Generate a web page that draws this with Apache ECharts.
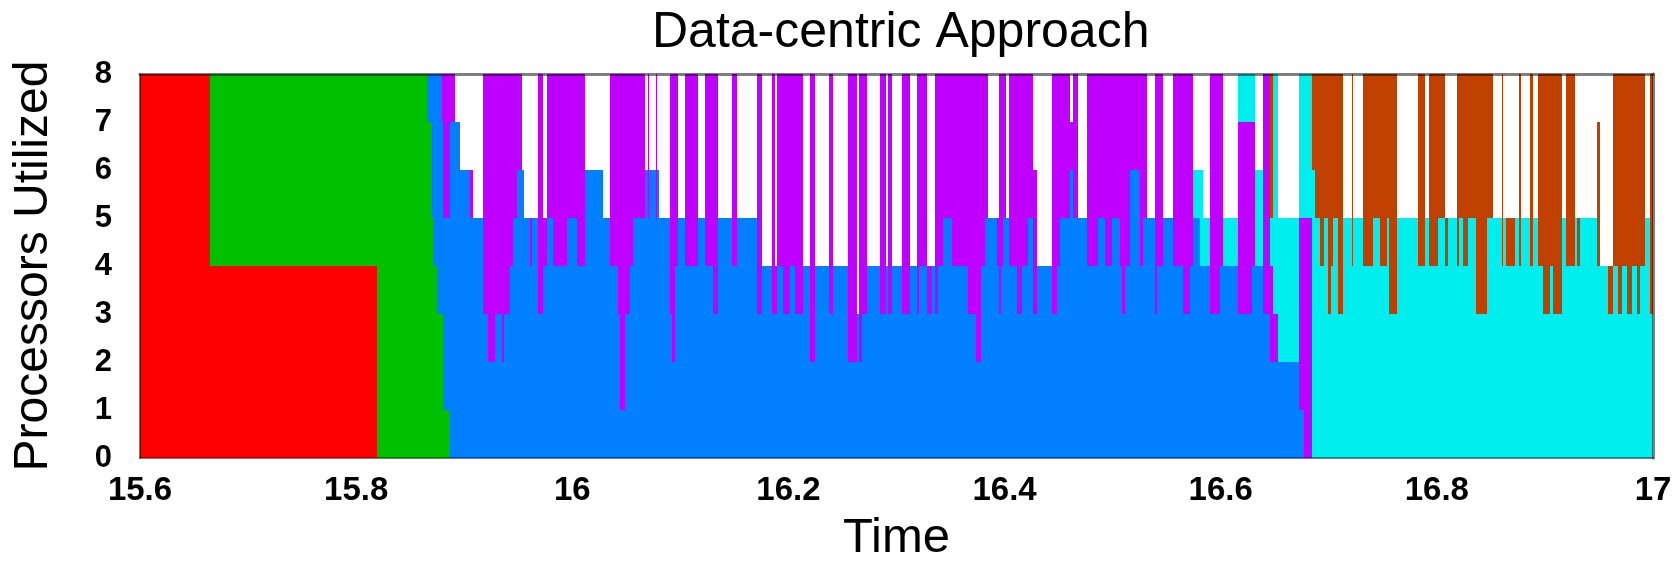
<!DOCTYPE html>
<html>
<head>
<meta charset="utf-8">
<title>Data-centric Approach</title>
<script src="https://cdn.jsdelivr.net/npm/echarts@6/dist/echarts.min.js"></script>
<style>
  html, body { margin: 0; background: #fff; }
  #chart { width: 1678px; height: 568px; }
</style>
</head>
<body>
<div id="chart"></div>
<script>
// each list: [time, processors used from that time on]
const redSteps = [[15.6, 8], [15.665, 4], [15.819, 0]]
const greenSteps = [[15.665, 4], [15.819, 8], [15.8653, 7], [15.8705, 5], [15.8714, 4], [15.8745, 3], [15.8807, 1], [15.8869, 0]]
const blueSteps = [
  [15.8653, 1], [15.8705, 3], [15.8714, 4], [15.8745, 5], [15.8792, 4], [15.8869, 7], [15.8961, 6], [15.9054, 5],
  [15.9177, 3], [15.9223, 2], [15.9285, 3], [15.9347, 2], [15.9368, 3], [15.9424, 4], [15.9455, 5], [15.9486, 6],
  [15.9553, 5], [15.9609, 4], [15.9624, 5], [15.9686, 3], [15.9726, 4], [15.9763, 5], [15.9825, 4], [15.9948, 5],
  [16.0041, 4], [16.0118, 6], [16.0287, 5], [16.0349, 4], [16.0426, 3], [16.0442, 1], [16.0488, 3], [16.0534, 4],
  [16.0565, 5], [16.0673, 6], [16.0698, 5], [16.0713, 6], [16.0775, 5], [16.0787, 6], [16.0806, 5], [16.0904, 3],
  [16.092, 2], [16.0951, 4], [16.0981, 5], [16.1043, 4], [16.1167, 5], [16.1228, 4], [16.1305, 3], [16.1352, 5],
  [16.1475, 4], [16.1521, 5], [16.1706, 3], [16.1753, 4], [16.1845, 3], [16.1891, 4], [16.1953, 3], [16.2015, 4],
  [16.2061, 3], [16.2132, 4], [16.22, 2], [16.2246, 4], [16.2378, 3], [16.2415, 4], [16.2554, 2], [16.2631, 3],
  [16.265, 2], [16.2681, 3], [16.2724, 4], [16.2847, 3], [16.2903, 4], [16.2924, 3], [16.2955, 4], [16.3048, 3],
  [16.3125, 4], [16.3187, 3], [16.3208, 4], [16.3279, 3], [16.3325, 4], [16.3356, 3], [16.3387, 4], [16.3433, 5],
  [16.351, 4], [16.3665, 3], [16.3732, 2], [16.3779, 4], [16.3819, 5], [16.3927, 4], [16.3948, 3], [16.3964, 4],
  [16.3988, 5], [16.4041, 4], [16.4112, 3], [16.4158, 4], [16.422, 5], [16.4266, 3], [16.4297, 4], [16.4436, 3],
  [16.4482, 4], [16.4513, 5], [16.4605, 6], [16.463, 5], [16.476, 4], [16.4868, 5], [16.4929, 4], [16.4991, 5],
  [16.5068, 4], [16.5083, 3], [16.5114, 4], [16.5161, 6], [16.5253, 4], [16.5284, 5], [16.5392, 3], [16.5413, 4],
  [16.5469, 5], [16.5562, 4], [16.5654, 3], [16.5716, 4], [16.5747, 5], [16.5808, 4], [16.5901, 3], [16.5993, 4],
  [16.6163, 3], [16.6286, 4], [16.6394, 3], [16.6456, 2], [16.6724, 1], [16.677, 0]
]
const purpleSteps = [
  [15.8792, 1], [15.8807, 3], [15.8869, 1], [15.8915, 0], [15.9054, 1], [15.9085, 0], [15.9177, 5], [15.9223, 6],
  [15.9285, 5], [15.9347, 6], [15.9368, 5], [15.9424, 4], [15.9455, 3], [15.9486, 2], [15.9532, 0], [15.9609, 1],
  [15.9624, 0], [15.9686, 5], [15.9726, 1], [15.9763, 3], [15.9825, 4], [15.9948, 3], [16.0041, 4], [16.0118, 0],
  [16.0349, 4], [16.0426, 5], [16.0442, 7], [16.0488, 5], [16.0534, 4], [16.0565, 3], [16.0673, 0], [16.0698, 3],
  [16.0713, 0], [16.0775, 3], [16.0787, 0], [16.0904, 5], [16.092, 6], [16.0951, 4], [16.0981, 0], [16.1043, 4],
  [16.1167, 0], [16.1228, 4], [16.1305, 5], [16.1352, 0], [16.1475, 4], [16.1521, 0], [16.1706, 5], [16.1753, 0],
  [16.1845, 5], [16.1876, 1], [16.1891, 4], [16.1953, 5], [16.2015, 4], [16.2061, 5], [16.2132, 0], [16.22, 6],
  [16.2246, 0], [16.2378, 5], [16.2415, 0], [16.2554, 6], [16.2631, 0], [16.265, 6], [16.2681, 5], [16.2724, 0],
  [16.2847, 5], [16.2903, 0], [16.2924, 5], [16.2955, 0], [16.3048, 5], [16.3125, 0], [16.3187, 5], [16.3208, 4],
  [16.3279, 1], [16.3325, 0], [16.3356, 5], [16.3387, 4], [16.3433, 3], [16.351, 4], [16.3665, 5], [16.3732, 6],
  [16.3779, 4], [16.3819, 3], [16.385, 0], [16.3927, 1], [16.3948, 5], [16.3964, 4], [16.3988, 3], [16.401, 0],
  [16.4041, 4], [16.4112, 5], [16.4158, 4], [16.422, 3], [16.4297, 0], [16.4436, 5], [16.4482, 4], [16.4513, 3],
  [16.4605, 1], [16.463, 3], [16.4682, 0], [16.476, 4], [16.4868, 3], [16.4929, 4], [16.4991, 3], [16.5068, 4],
  [16.5083, 5], [16.5114, 4], [16.5161, 2], [16.5253, 4], [16.5284, 3], [16.5315, 0], [16.5392, 5], [16.5413, 4],
  [16.5469, 0], [16.5562, 4], [16.5654, 5], [16.5716, 4], [16.5747, 0], [16.5901, 5], [16.5993, 4], [16.6024, 0],
  [16.6163, 4], [16.6286, 3], [16.6317, 0], [16.6394, 5], [16.6456, 2], [16.648, 1], [16.6533, 0], [16.6724, 4],
  [16.677, 5], [16.6841, 0]
]
const cyanSteps = [
  [16.5747, 1], [16.5808, 2], [16.5839, 1], [16.5901, 0], [16.6024, 1], [16.6317, 2], [16.6394, 0], [16.6456, 1],
  [16.648, 5], [16.6533, 3], [16.6841, 6], [16.6872, 5], [16.6918, 4], [16.6955, 5], [16.6995, 3], [16.7017, 4],
  [16.7042, 5], [16.7088, 3], [16.7128, 5], [16.7211, 4], [16.7227, 5], [16.7319, 4], [16.7412, 5], [16.7474, 4],
  [16.7535, 5], [16.756, 3], [16.7628, 5], [16.7828, 4], [16.789, 5], [16.793, 4], [16.8013, 5], [16.8075, 4],
  [16.8106, 5], [16.8183, 4], [16.8208, 5], [16.8245, 4], [16.8291, 5], [16.8362, 3], [16.8461, 5], [16.8599, 4],
  [16.8615, 5], [16.8639, 4], [16.8723, 5], [16.8763, 4], [16.8775, 5], [16.8862, 4], [16.8892, 5], [16.8939, 4],
  [16.8985, 3], [16.9047, 4], [16.9077, 3], [16.9155, 5], [16.9195, 4], [16.9278, 5], [16.9299, 4], [16.9324, 5],
  [16.9478, 4], [16.9586, 3], [16.9633, 4], [16.9679, 3], [16.971, 4], [16.9756, 3], [16.9802, 4], [16.9849, 3],
  [16.9879, 4], [16.9926, 5], [16.9972, 3]
]
const brownSteps = [
  [16.6456, 3], [16.648, 0], [16.6841, 2], [16.6872, 3], [16.6918, 4], [16.6955, 3], [16.6995, 5], [16.7017, 4],
  [16.7042, 3], [16.7088, 5], [16.7128, 0], [16.7211, 4], [16.7227, 0], [16.7319, 4], [16.7412, 3], [16.7474, 4],
  [16.7535, 3], [16.756, 5], [16.7628, 0], [16.7828, 4], [16.789, 0], [16.793, 4], [16.8013, 3], [16.8075, 1],
  [16.8106, 0], [16.8183, 4], [16.8208, 3], [16.8245, 4], [16.8291, 3], [16.8362, 5], [16.8461, 3], [16.8522, 0],
  [16.8599, 4], [16.8615, 0], [16.8639, 1], [16.8723, 0], [16.8763, 4], [16.8775, 0], [16.8862, 4], [16.8892, 0],
  [16.8939, 4], [16.8985, 5], [16.9047, 4], [16.9077, 5], [16.9155, 0], [16.9195, 4], [16.9278, 0], [16.9299, 1],
  [16.9324, 0], [16.9478, 3], [16.9509, 0], [16.9586, 1], [16.9633, 4], [16.9679, 5], [16.971, 4], [16.9756, 5],
  [16.9802, 4], [16.9849, 5], [16.9879, 4], [16.9926, 0], [16.9972, 5]
]
const timeEnd = 17
const xTicks = [15.6, 17, 0.2] // min, max, interval
const yTicks = [0, 8, 1]

// bottom to top
const stages = [
  { name: 'Stage 1', steps: redSteps, color: '#ff0000' },
  { name: 'Stage 2', steps: greenSteps, color: '#00c000' },
  { name: 'Stage 3', steps: blueSteps, color: '#0080ff' },
  { name: 'Stage 4', steps: purpleSteps, color: '#c000ff' },
  { name: 'Stage 5', steps: cyanSteps, color: '#00eeee' },
  { name: 'Stage 6', steps: brownSteps, color: '#c04000' }
]

// 所有阶段共用同一组时间点
const times = Array.from(new Set(stages.flatMap(s => s.steps.map(p => p[0])).concat([timeEnd])))
  .sort((a, b) => a - b)

function valueAt(steps, t) {
  let v = 0
  for (const [st, c] of steps) {
    if (st <= t + 1e-9) v = c
    else break
  }
  return v
}

// 每个阶段的矩形块 [开始时间, 结束时间, 下沿, 上沿]，叠在下面各阶段之上
function buildBlocks(k) {
  const out = []
  for (let i = 0; i < times.length - 1; i++) {
    const t = times[i]
    let base = 0
    for (let j = 0; j < k; j++) base += valueAt(stages[j].steps, t)
    const n = valueAt(stages[k].steps, t)
    if (n <= 0) continue
    const last = out[out.length - 1]
    if (last && last[1] === t && last[2] === base && last[3] === base + n) {
      last[1] = times[i + 1]
    } else {
      out.push([t, times[i + 1], base, base + n])
    }
  }
  return out
}

const frame = 'rgba(0,0,0,0.5)'
const font = 'Liberation Sans'

const series = stages.map((s, k) => ({
  name: s.name,
  type: 'custom',
  silent: true,
  encode: { x: [0, 1], y: [2, 3] },
  renderItem(params, api) {
    const a = api.coord([api.value(0), api.value(3)])
    const b = api.coord([api.value(1), api.value(2)])
    const x0 = Math.round(a[0])
    const x1 = Math.round(b[0])
    const y0 = Math.round(a[1])
    const y1 = Math.round(b[1])
    return {
      type: 'rect',
      shape: { x: x0, y: y0, width: Math.max(x1 - x0, 1), height: y1 - y0 },
      style: { fill: s.color }
    }
  },
  data: buildBlocks(k)
}))

const chart = echarts.init(document.getElementById('chart'))
chart.setOption({
  animation: false,
  backgroundColor: '#fff',
  title: {
    text: 'Data-centric Approach',
    left: 652,
    top: 8,
    padding: 0,
    textStyle: { fontFamily: font, fontSize: 50, fontWeight: 'normal', color: '#000' }
  },
  grid: { left: 140, right: 25, top: 74, bottom: 101 },
  xAxis: [
    {
      type: 'value',
      min: xTicks[0],
      max: xTicks[1],
      interval: xTicks[2],
      z: 5,
      name: 'Time',
      nameLocation: 'middle',
      nameGap: 56,
      nameTextStyle: { fontFamily: font, fontSize: 49, color: '#000' },
      axisLine: { onZero: false, lineStyle: { color: frame, width: 2 } },
      axisTick: { show: false },
      splitLine: { show: false },
      axisLabel: { margin: 16, fontFamily: font, fontSize: 33, fontWeight: 'bold', color: '#000' }
    },
    {
      type: 'value',
      position: 'top',
      min: xTicks[0],
      max: xTicks[1],
      z: 5,
      axisLine: { onZero: false, lineStyle: { color: frame, width: 3 } },
      axisTick: { show: false },
      axisLabel: { show: false },
      splitLine: { show: false }
    }
  ],
  yAxis: [
    {
      type: 'value',
      min: yTicks[0],
      max: yTicks[1],
      interval: yTicks[2],
      z: 5,
      name: 'Processors Utilized',
      nameLocation: 'middle',
      nameGap: 82,
      nameTextStyle: { fontFamily: font, fontSize: 48, color: '#000' },
      axisLine: { show: true, onZero: false, lineStyle: { color: frame, width: 2 } },
      axisTick: { show: false },
      splitLine: { show: false },
      axisLabel: { margin: 28, fontFamily: font, fontSize: 31, fontWeight: 'bold', color: '#000' }
    },
    {
      type: 'value',
      position: 'right',
      min: yTicks[0],
      max: yTicks[1],
      z: 5,
      axisLine: { show: true, onZero: false, lineStyle: { color: frame, width: 3 } },
      axisTick: { show: false },
      axisLabel: { show: false },
      splitLine: { show: false }
    }
  ],
  series: series
})
</script>
</body>
</html>
